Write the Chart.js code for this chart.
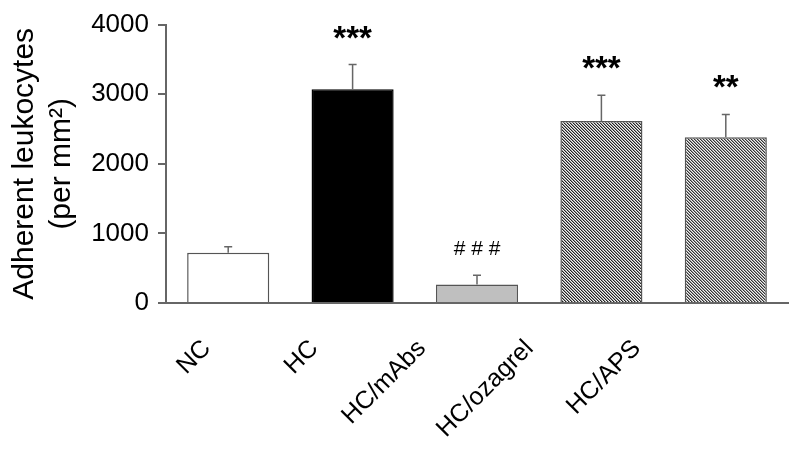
<!DOCTYPE html>
<html>
<head>
<meta charset="utf-8">
<script src="https://cdn.jsdelivr.net/npm/chart.js@4"></script>
<style>
  html, body { margin: 0; padding: 0; background: #fff; }
  #wrap { width: 800px; height: 459px; }
</style>
</head>
<body>
<div id="wrap"><canvas id="canvas1"></canvas></div>
<script>
const groups = ['NC', 'HC', 'HC/mAbs', 'HC/ozagrel', 'HC/APS'];
const leukocytes = [722, 3070, 266, 2615, 2382];
const sem = [85, 356, 133, 370, 327];
const marks = ['', '***', '# # #', '***', '**'];
const yTicks = [0, 1000, 2000, 3000, 4000];

// diagonal hatch fill like the original plot
const hatch = (dark) => {
  const c = document.createElement('canvas');
  c.width = 3; c.height = 3;
  const g = c.getContext('2d');
  g.fillStyle = '#f2f2f2';
  g.fillRect(0, 0, 3, 3);
  for (let i = 0; i < 3; i++) {
    g.fillStyle = dark;
    g.fillRect(i, i, 1, 1);
    g.fillStyle = '#999';
    g.fillRect((i + 1) % 3, i, 1, 1);
  }
  return g.createPattern(c, 'repeat');
};

const ctx0 = document.getElementById('canvas1').getContext('2d');
const fills = ['#ffffff', '#000000', '#bfbfbf', hatch('#222'), hatch('#333')];
const borders = ['#555', '#000', '#555', '#555', '#555'];

const errorBars = {
  id: 'errorBars',
  afterDatasetsDraw(chart) {
    const { ctx, scales: { y } } = chart;
    const meta = chart.getDatasetMeta(0);
    ctx.save();
    ctx.strokeStyle = '#666';
    ctx.lineWidth = 1.5;
    meta.data.forEach((bar, i) => {
      const top = y.getPixelForValue(leukocytes[i] + sem[i]);
      ctx.beginPath();
      ctx.moveTo(bar.x, bar.y);
      ctx.lineTo(bar.x, top);
      ctx.moveTo(bar.x - 4, top);
      ctx.lineTo(bar.x + 4, top);
      ctx.stroke();
      if (marks[i]) {
        const star = marks[i].includes('*');
        ctx.fillStyle = '#000';
        ctx.textAlign = 'center';
        ctx.textBaseline = 'alphabetic';
        ctx.font = star ? 'bold 33px "Liberation Sans"' : '21px "Liberation Sans"';
        ctx.fillText(marks[i], bar.x, top - (star ? 16 : 20));
      }
    });
    ctx.restore();
  }
};

new Chart(ctx0, {
  type: 'bar',
  data: {
    labels: groups,
    datasets: [{
      data: leukocytes,
      backgroundColor: fills,
      borderColor: borders,
      borderWidth: 1.5,
      barPercentage: 0.66,
      categoryPercentage: 1
    }]
  },
  options: {
    responsive: true,
    maintainAspectRatio: false,
    animation: false,
    layout: { padding: { top: 22, right: 12, left: 0, bottom: 0 } },
    plugins: { legend: { display: false }, tooltip: { enabled: false } },
    scales: {
      x: {
        grid: { display: false },
        border: { color: '#666', width: 2 },
        ticks: { display: false },
        afterFit: (s) => { s.height = 0; }
      },
      // group names sit on their own bottom axis, slightly tighter than the bars
      x2: {
        type: 'linear',
        position: 'bottom',
        offset: false,
        bounds: 'data',
        min: -0.381,
        max: 5.405,
        afterBuildTicks: (s) => { s.ticks = groups.map((g, i) => ({ value: i })); },
        grid: { display: false },
        border: { display: false },
        ticks: {
          color: '#000',
          font: { family: 'Liberation Sans', size: 25 },
          minRotation: 45,
          maxRotation: 45,
          autoSkip: false,
          padding: 23,
          callback: (v) => groups[v]
        },
        afterFit: (s) => { s.height = 156; }
      },
      y: {
        min: 0,
        max: 4000,
        afterBuildTicks: (s) => { s.ticks = yTicks.map(v => ({ value: v })); },
        grid: { drawOnChartArea: false, drawTicks: true, tickLength: 8, color: '#666', lineWidth: 2 },
        border: { color: '#666', width: 2 },
        ticks: {
          color: '#000',
          font: { family: 'Liberation Sans', size: 26 },
          padding: 9,
          callback: (v) => String(v)
        },
        title: {
          display: true,
          text: ['Adherent leukocytes', '(per mm\u00B2)'],
          color: '#000',
          font: { family: 'Liberation Sans', size: 30, lineHeight: 1.23 },
          padding: { top: 6, bottom: 0 }
        },
        afterFit: (s) => { s.width = 166; }
      }
    }
  },
  plugins: [errorBars]
});
</script>
</body>
</html>
